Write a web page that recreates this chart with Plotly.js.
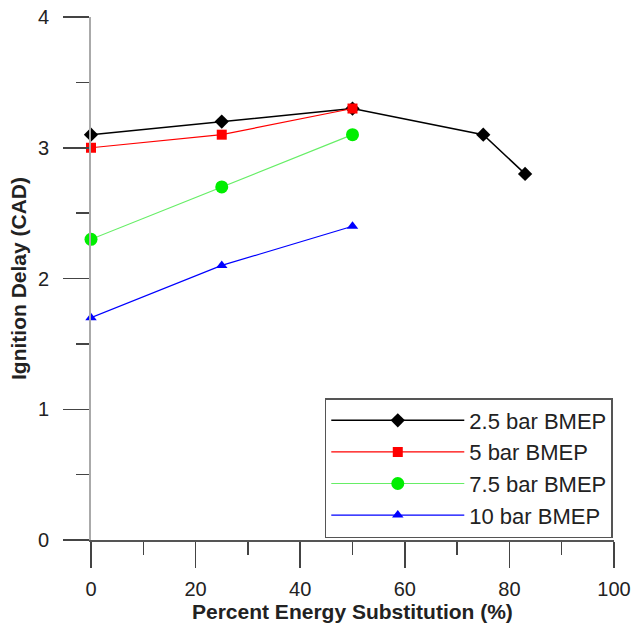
<!DOCTYPE html>
<html>
<head>
<meta charset="utf-8">
<script src="https://cdn.plot.ly/plotly-3.0.1.min.js"></script>
<style>html,body{margin:0;padding:0;background:#fff;}#chart{width:634px;height:632px;}</style>
</head>
<body>
<div id="chart"></div>
<script>
// Data
const x25 = [0, 25, 50, 75, 83];
const y25 = [3.1, 3.2, 3.3, 3.1, 2.8];
const x5 = [0, 25, 50];
const y5 = [3.0, 3.1, 3.3];
const x75 = [0, 25, 50];
const y75 = [2.3, 2.7, 3.1];
const x10 = [0, 25, 50];
const y10 = [1.7, 2.1, 2.4];
const names = ['2.5 bar BMEP', '5 bar BMEP', '7.5 bar BMEP', '10 bar BMEP'];
const xTickVals = [0, 20, 40, 60, 80, 100];
const yTickVals = [0, 1, 2, 3, 4];
const xTitle = 'Percent Energy Substitution (%)';
const yTitle = 'Ignition Delay (CAD)';

const font = 'Liberation Sans, Arial, sans-serif';

const traces = [
  {x: x25, y: y25, name: names[0], mode: 'lines+markers',
   line: {color: '#000000', width: 1.5},
   marker: {symbol: 'diamond', size: 11, color: '#000000'}},
  {x: x5, y: y5, name: names[1], mode: 'lines+markers',
   line: {color: '#ff0000', width: 1.2},
   marker: {symbol: 'square', size: 10, color: '#ff0000'}},
  {x: x75, y: y75, name: names[2], mode: 'lines+markers',
   line: {color: '#66ee66', width: 1.2},
   marker: {symbol: 'circle', size: 13, color: '#00ee00'}},
  {x: x10, y: y10, name: names[3], mode: 'lines+markers',
   line: {color: '#0000ff', width: 1.2},
   marker: {symbol: 'triangle-up', size: 10, color: '#0000ff'}}
].map(t => Object.assign(t, {cliponaxis: false}));

const layout = {
  width: 634, height: 632,
  margin: {l: 91, r: 20, t: 17, b: 92},
  paper_bgcolor: '#ffffff', plot_bgcolor: '#ffffff',
  font: {family: font, color: '#222222', size: 20},
  showlegend: true,
  legend: {
    x: 0.447, y: 0.2715, xanchor: 'left', yanchor: 'top',
    bordercolor: '#555555', borderwidth: 1.5, bgcolor: '#ffffff',
    font: {family: font, size: 22, color: '#222222'},
    itemwidth: 133, tracegroupgap: 0
  },
  xaxis: {
    range: [0, 100], tickvals: xTickVals, ticks: 'outside', ticklen: 26,
    tickcolor: '#444444', tickwidth: 1.5,
    showline: true, linecolor: '#555555', linewidth: 1.5,
    showgrid: false, zeroline: false,
    minor: {dtick: 10, ticks: 'outside', ticklen: 13, tickcolor: '#444444', tickwidth: 1.5, showgrid: false},
    tickfont: {family: font, size: 20, color: '#222222'},
    ticklabelstandoff: 4
  },
  yaxis: {
    range: [0, 4], tickvals: yTickVals, ticks: 'outside', ticklen: 26,
    tickcolor: '#444444', tickwidth: 1.5,
    showline: true, linecolor: '#aaaaaa', linewidth: 2,
    showgrid: false, zeroline: false,
    minor: {dtick: 0.5, ticks: 'outside', ticklen: 13, tickcolor: '#444444', tickwidth: 1.5, showgrid: false},
    tickfont: {family: font, size: 20, color: '#222222'},
    ticklabelstandoff: 10,
    title: {text: '<b>' + yTitle + '</b>', font: {family: font, size: 21, color: '#222222'}, standoff: 6}
  },
  annotations: [{
    text: '<b>' + xTitle + '</b>', xref: 'paper', yref: 'paper',
    x: 0.5, y: -0.136, xanchor: 'center', yanchor: 'middle', showarrow: false,
    font: {family: font, size: 21, color: '#222222'}
  }]
};

Plotly.newPlot('chart', traces, layout, {displayModeBar: false, staticPlot: true});
</script>
</body>
</html>
